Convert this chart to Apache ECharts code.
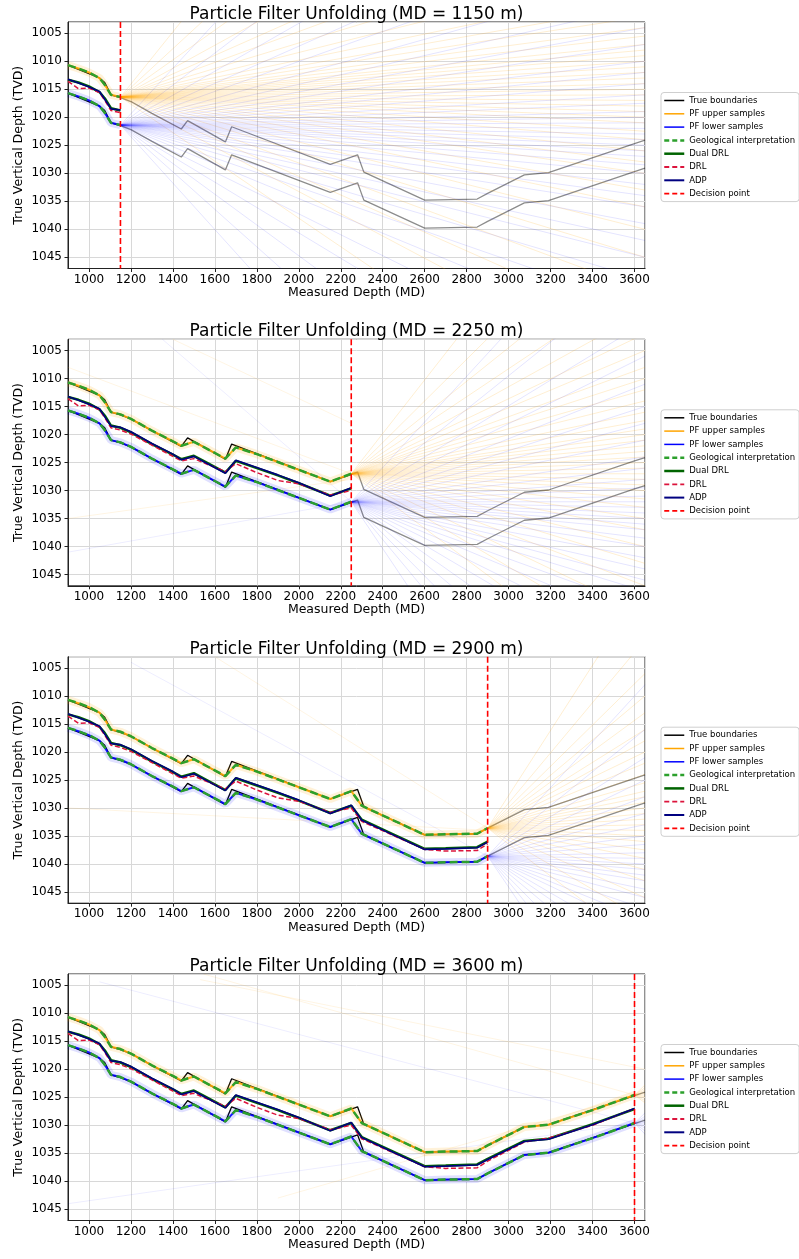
<!DOCTYPE html>
<html lang="en">
<head>
<meta charset="UTF-8">
<title>Particle Filter Unfolding</title>
<script src="https://cdn.jsdelivr.net/npm/echarts@6/dist/echarts.min.js"></script>
<style>
    html, body { margin: 0; padding: 0; background: #fff; }
    #chart { width: 799px; height: 1259px; }
</style>
</head>
<body>
<div id="chart"></div>
<script>
// 决策点 (one per panel)
const decisionPoints = [1150, 2250, 2900, 3600];

// true boundaries (vertices, decision points included)
const mdTrue    = [900, 1050, 1075, 1105, 1150, 1200, 1300, 1440, 1470, 1650, 1680, 2150, 2250, 2280, 2310, 2600, 2850, 2900, 3075, 3190, 3600, 3650];
const trueUpper = [1010.7, 1013.0, 1013.8, 1016.0, 1016.5, 1017.2, 1019.3, 1022.1, 1020.6, 1024.4, 1021.7, 1028.4, 1027.1, 1026.7, 1029.8, 1034.8, 1034.6, 1033.6, 1030.3, 1029.9, 1024.7, 1024.1];
const trueLower = [1015.7, 1018.0, 1018.8, 1021.0, 1021.5, 1022.2, 1024.3, 1027.1, 1025.6, 1029.4, 1026.7, 1033.4, 1032.1, 1031.7, 1034.8, 1039.8, 1039.6, 1038.6, 1035.3, 1034.9, 1029.7, 1029.1];

// interpretation and trajectories
const mdPath   = [900, 950, 1000, 1050, 1075, 1105, 1150, 1200, 1300, 1400, 1440, 1500, 1550, 1650, 1700, 1800, 1900, 2000, 2150, 2250, 2300, 2450, 2600, 2700, 2850, 2900, 3075, 3190, 3400, 3600];
const geoUpper = [1010.7, 1011.3, 1012.0, 1013.0, 1014.2, 1016.0, 1016.4, 1017.2, 1019.3, 1021.2, 1022.0, 1021.3, 1022.3, 1024.3, 1022.3, 1023.5, 1024.9, 1026.3, 1028.4, 1027.0, 1029.6, 1032.2, 1034.8, 1034.7, 1034.6, 1033.6, 1030.3, 1029.9, 1027.3, 1024.6];
const geoLower = [1015.7, 1016.3, 1017.0, 1018.0, 1019.2, 1021.0, 1021.4, 1022.2, 1024.3, 1026.2, 1027.0, 1026.3, 1027.3, 1029.3, 1027.3, 1028.5, 1029.9, 1031.3, 1033.4, 1032.0, 1034.6, 1037.2, 1039.8, 1039.7, 1039.6, 1038.6, 1035.3, 1034.9, 1032.3, 1029.6];
const dualDrl  = [1013.3, 1013.8, 1014.5, 1015.5, 1016.6, 1018.4, 1018.8, 1019.6, 1021.7, 1023.6, 1024.4, 1023.8, 1024.8, 1026.8, 1024.7, 1026.0, 1027.3, 1028.7, 1030.9, 1029.6, 1032.1, 1034.7, 1037.3, 1037.2, 1037.0, 1036.0, 1032.8, 1032.4, 1029.8, 1027.1];
const drl      = [1013.6, 1014.9, 1014.8, 1015.6, 1017.0, 1018.8, 1019.2, 1019.9, 1021.9, 1023.9, 1024.7, 1024.3, 1025.1, 1026.6, 1025.2, 1026.8, 1028.2, 1028.8, 1030.8, 1030.0, 1032.4, 1034.9, 1037.4, 1037.7, 1037.6, 1036.4, 1033.0, 1032.3, 1030.0, 1027.0];
const adp      = [1013.2, 1013.9, 1014.6, 1015.4, 1016.8, 1018.5, 1018.7, 1019.5, 1021.6, 1023.5, 1024.5, 1023.9, 1024.9, 1026.9, 1024.6, 1025.9, 1027.2, 1028.6, 1031.0, 1029.5, 1032.2, 1034.8, 1037.4, 1037.3, 1037.1, 1036.1, 1032.9, 1032.5, 1029.9, 1027.0];

// PF samples: TVD reached at the right edge (MD 3650), starting from the decision point
const fanEndMd = 3650;
const upperFan1 = [900, 930, 950, 965, 975, 982, 988, 993, 997, 1000, 1002, 1004, 1005.5, 1007, 1008, 1009, 1010, 1011, 1012, 1013, 1014, 1015, 1016, 1017, 1018, 1019, 1020, 1021, 1022.5, 1024, 1026, 1028, 1030, 1033, 1036, 1040, 1045, 1051, 1058, 1066, 1080];
const lowerFan1 = [920, 950, 968, 980, 988, 995, 1000, 1004, 1007, 1010, 1012, 1014, 1016, 1017.5, 1019, 1020, 1021, 1022, 1023, 1024, 1025, 1026, 1027, 1028.5, 1030, 1032, 1034, 1036, 1039, 1042, 1045, 1049, 1054, 1060, 1068, 1078, 1090, 1105, 1125];
const upperFan2 = [960, 975, 985, 992, 998, 1002, 1005, 1008, 1010, 1012, 1014, 1016, 1017.5, 1019, 1020, 1021, 1022, 1023, 1024, 1025, 1026, 1027, 1028, 1029, 1030, 1031.5, 1033, 1035, 1037, 1040, 1043, 1047, 1052, 1058, 1066];
const lowerFan2 = [975, 990, 1000, 1006, 1011, 1015, 1018, 1021, 1024, 1026, 1028, 1029.5, 1031, 1032, 1033, 1034, 1035, 1036, 1037, 1038.5, 1040, 1042, 1044, 1046, 1048, 1051, 1054, 1058, 1063, 1069, 1076, 1085, 1095, 1110];
const upperFan3 = [990, 1000, 1006, 1010, 1013, 1016, 1018, 1020, 1022, 1024, 1025.5, 1027, 1028, 1029, 1030, 1031, 1032, 1033, 1034, 1035, 1036, 1037.5, 1039, 1041, 1043, 1046, 1050, 1055];
const lowerFan3 = [1008, 1016, 1021, 1025, 1028, 1031, 1033, 1035, 1036.5, 1038, 1039, 1040, 1041, 1042, 1043, 1044.5, 1046, 1048, 1050, 1052, 1055, 1058, 1062, 1067, 1073, 1080];
const upperFan4 = [1022.8, 1023.3, 1023.7, 1024.0, 1024.3, 1024.6, 1024.9, 1025.2, 1025.6, 1026.0];
const lowerFan4 = [1027.8, 1028.4, 1028.8, 1029.2, 1029.5, 1029.8, 1030.1, 1030.5, 1031.0, 1031.6];
const upperFans = [upperFan1, upperFan2, upperFan3, upperFan4];
const lowerFans = [lowerFan1, lowerFan2, lowerFan3, lowerFan4];

// older samples that cross the plot: [md0, tvd0, md1, tvd1]
const strayUpper = [
    [],
    [[900, 1008, 2250, 1027], [900, 1035, 2250, 1028], [1400, 1003, 2250, 1018]],
    [[1600, 1003, 2900, 1033.6], [900, 1030, 2900, 1034]],
    [[1545, 1003, 3600, 1024.6], [1530, 1004, 3650, 1020], [1900, 1043, 3600, 1024.6]]
];
const strayLower = [
    [],
    [[1350, 1003, 2250, 1032], [900, 1041, 2250, 1032]],
    [[1200, 1004, 2900, 1038.6]],
    [[1050, 1004.4, 3600, 1029.6], [900, 1044, 3600, 1029.6]]
];

const FONT = 'DejaVu Sans';
const X_MIN = 900, X_MAX = 3650, Y_MIN = 1003, Y_MAX = 1047;
const GRID_LEFT = 68, GRID_WIDTH = 577, GRID_HEIGHT = 246.5;
const panelTops = [22, 339.3, 656.7, 974];

function pts(md, vals, fromMd, toMd) {
    const out = [];
    md.forEach((m, i) => { if (m >= fromMd && m <= toMd) out.push([m, vals[i]]); });
    return out;
}
function line(k, name, data, style) {
    return {
        type: 'line', name: name, xAxisIndex: k, yAxisIndex: k, data: data,
        symbol: 'none', silent: true, animation: false, lineStyle: style
    };
}

const series = [], grids = [], xAxes = [], yAxes = [], titles = [], legends = [];

const legendItems = [
    { name: 'True boundaries', lineStyle: { color: '#000', width: 1.5, type: 'solid', opacity: 1 } },
    { name: 'PF upper samples', lineStyle: { color: '#ffa500', width: 1.5, type: 'solid', opacity: 1 } },
    { name: 'PF lower samples', lineStyle: { color: '#0000ff', width: 1.5, type: 'solid', opacity: 1 } },
    { name: 'Geological interpretation', lineStyle: { color: '#2ca02c', width: 2.5, type: [5, 3], opacity: 1 } },
    { name: 'Dual DRL', lineStyle: { color: '#006400', width: 2.5, type: 'solid', opacity: 1 } },
    { name: 'DRL', lineStyle: { color: '#dc143c', width: 1.8, type: [5, 3], opacity: 1 } },
    { name: 'ADP', lineStyle: { color: '#000080', width: 2, type: 'solid', opacity: 1 } },
    { name: 'Decision point', lineStyle: { color: '#ff0000', width: 1.8, type: [5, 3], opacity: 1 } }
];

decisionPoints.forEach((dp, k) => {
    const top = panelTops[k];
    grids.push({ left: GRID_LEFT, top: top, width: GRID_WIDTH, height: GRID_HEIGHT,
        show: true, borderColor: '#222', borderWidth: 1, backgroundColor: 'transparent' });
    xAxes.push({
        type: 'value', gridIndex: k, min: X_MIN, max: X_MAX, splitNumber: 14,
        name: 'Measured Depth (MD)', nameLocation: 'middle', nameGap: 17,
        nameTextStyle: { fontSize: 12.5, color: '#000', fontFamily: FONT },
        axisLine: { show: true, onZero: false, lineStyle: { color: '#222' } },
        axisTick: { show: true, length: 3.5, lineStyle: { color: '#222' } },
        axisLabel: { fontSize: 12, color: '#000', fontFamily: FONT, margin: 5,
            showMinLabel: false, showMaxLabel: false, formatter: v => String(v) },
        splitLine: { show: true, lineStyle: { color: '#d8d8d8', width: 1 } }
    });
    yAxes.push({
        type: 'value', gridIndex: k, min: Y_MIN, max: Y_MAX, splitNumber: 9, inverse: true,
        name: 'True Vertical Depth (TVD)', nameLocation: 'middle', nameGap: 43, nameMoveOverlap: false,
        nameTextStyle: { fontSize: 12.5, color: '#000', fontFamily: FONT },
        axisLine: { show: true, onZero: false, lineStyle: { color: '#222' } },
        axisTick: { show: true, length: 3.5, lineStyle: { color: '#222' } },
        axisLabel: { fontSize: 12, color: '#000', fontFamily: FONT, margin: 6,
            showMinLabel: false, showMaxLabel: false, formatter: v => String(v) },
        splitLine: { show: true, lineStyle: { color: '#d8d8d8', width: 1 } }
    });
    titles.push({
        text: 'Particle Filter Unfolding (MD = ' + dp + ' m)',
        left: GRID_LEFT + GRID_WIDTH / 2, top: top - 16, textAlign: 'center', padding: 0,
        textStyle: { fontSize: 17, fontWeight: 'normal', color: '#000', fontFamily: FONT }
    });
    legends.push({
        orient: 'vertical', left: 661, top: top + 70.5,
        itemWidth: 20, itemHeight: 9, itemGap: 4.3, padding: [3.5, 4, 3.5, 2],
        backgroundColor: 'rgba(255,255,255,0.85)', borderColor: '#cfcfcf', borderWidth: 1, borderRadius: 3,
        itemStyle: { opacity: 0 },
        textStyle: { fontSize: 8.5, lineHeight: 9, color: '#000', fontFamily: FONT },
        selectedMode: false,
        data: legendItems
    });

    // true boundaries: black up to the decision point, grey after it
    [trueUpper, trueLower].forEach(vals => {
        series.push(line(k, 'True boundaries', pts(mdTrue, vals, X_MIN, dp), { color: '#000000', width: 1.3 }));
        series.push(line(k, 'True boundaries', pts(mdTrue, vals, dp, X_MAX), { color: '#000000', width: 1.3, opacity: 0.45 }));
    });

    const iDp = mdPath.indexOf(dp);
    const originUp = geoUpper[iDp], originLow = geoLower[iDp];

    // PF upper samples
    series.push(line(k, 'PF upper samples', pts(mdPath, geoUpper, X_MIN, dp), { color: '#ffa500', width: 8, opacity: 0.15 }));
    strayUpper[k].forEach(s => series.push(line(k, 'PF upper samples', [[s[0], s[1]], [s[2], s[3]]], { color: '#ffa500', width: 0.8, opacity: 0.14 })));
    upperFans[k].forEach(end => series.push(line(k, 'PF upper samples', [[dp, originUp], [fanEndMd, end]], { color: '#ffa500', width: 0.9, opacity: 0.2 })));
    series.push(line(k, 'PF upper samples', pts(mdPath, geoUpper, X_MIN, dp), { color: '#ffa500', width: 2, opacity: 0.9 }));

    // PF lower samples
    series.push(line(k, 'PF lower samples', pts(mdPath, geoLower, X_MIN, dp), { color: '#0000ff', width: 8, opacity: 0.12 }));
    strayLower[k].forEach(s => series.push(line(k, 'PF lower samples', [[s[0], s[1]], [s[2], s[3]]], { color: '#0000ff', width: 0.8, opacity: 0.09 })));
    lowerFans[k].forEach(end => series.push(line(k, 'PF lower samples', [[dp, originLow], [fanEndMd, end]], { color: '#0000ff', width: 0.9, opacity: 0.12 })));
    series.push(line(k, 'PF lower samples', pts(mdPath, geoLower, X_MIN, dp), { color: '#0000ff', width: 2, opacity: 0.9 }));

    // geological interpretation
    series.push(line(k, 'Geological interpretation', pts(mdPath, geoUpper, X_MIN, dp), { color: '#2ca02c', width: 2.5, type: [8, 4] }));
    series.push(line(k, 'Geological interpretation', pts(mdPath, geoLower, X_MIN, dp), { color: '#2ca02c', width: 2.5, type: [8, 4] }));

    // trajectories
    series.push(line(k, 'Dual DRL', pts(mdPath, dualDrl, X_MIN, dp), { color: '#006400', width: 2.5 }));
    series.push(line(k, 'DRL', pts(mdPath, drl, X_MIN, dp), { color: '#dc143c', width: 1.5, type: [5, 2.5] }));
    series.push(line(k, 'ADP', pts(mdPath, adp, X_MIN, dp), { color: '#000080', width: 1.6 }));

    // decision point
    series.push(line(k, 'Decision point', [[dp, Y_MIN], [dp, Y_MAX]], { color: '#ff0000', width: 1.6, type: [6, 3] }));
});

const chart = echarts.init(document.getElementById('chart'), null, { renderer: 'canvas' });
chart.setOption({
    backgroundColor: '#ffffff',
    animation: false,
    title: titles,
    legend: legends,
    grid: grids,
    xAxis: xAxes,
    yAxis: yAxes,
    series: series
});
</script>
</body>
</html>
